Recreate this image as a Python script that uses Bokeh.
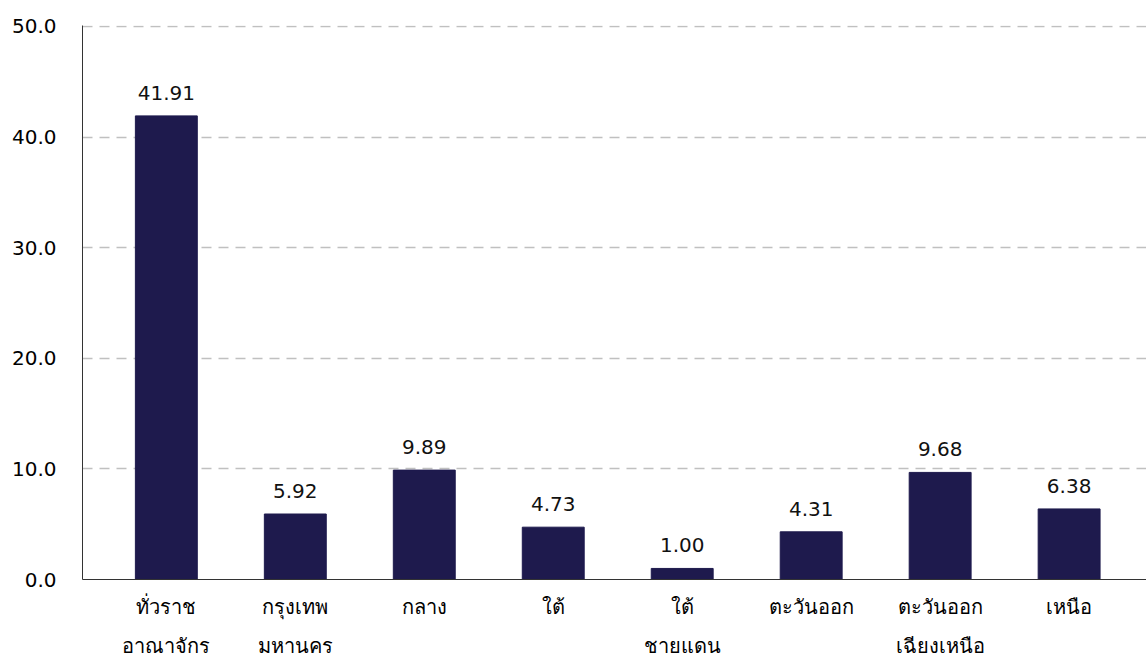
from bokeh.plotting import figure
from bokeh.models import ColumnDataSource, FixedTicker, Range1d, NumeralTickFormatter
from bokeh.embed import file_html
from bokeh.resources import INLINE
from bokeh.core.properties import value

categories = ["ทั่วราช\nอาณาจักร", "กรุงเทพ\nมหานคร", "กลาง", "ใต้", "ใต้\nชายแดน",
              "ตะวันออก", "ตะวันออก\nเฉียงเหนือ", "เหนือ"]
values = [41.91, 5.92, 9.89, 4.73, 1.00, 4.31, 9.68, 6.38]
y_ticks = [0, 10, 20, 30, 40, 50]

xs = list(range(len(categories)))
src = ColumnDataSource(dict(x=xs, top=values, label=["%.2f" % v for v in values]))

FONT = "DejaVu Sans"

p = figure(frame_width=1064, frame_height=554, output_backend="svg", toolbar_location=None,
           x_range=Range1d(-0.65, 7.6), y_range=Range1d(0, 50.08),
           min_border_top=25, min_border_left=82, min_border_right=0, min_border_bottom=80)
p.outline_line_color = None

p.vbar(x="x", top="top", width=0.48, bottom=0, source=src, color="#1e1a4d")
p.text(x="x", y="top", text="label", source=src, text_align="center", text_baseline="bottom",
       y_offset=-16, text_font=value(FONT), text_font_size="20px", text_color="#111111")

p.xaxis.ticker = FixedTicker(ticks=xs)
p.xaxis.major_label_overrides = {i: c for i, c in enumerate(categories)}
p.xaxis.major_tick_line_color = None
p.xaxis.minor_tick_line_color = None
p.xaxis.axis_line_color = "#333333"
p.xaxis.major_label_text_font = FONT
p.xaxis.major_label_text_font_size = "20px"
p.xaxis.major_label_text_color = "#000000"
p.xaxis.major_label_standoff = 9
p.xaxis.major_label_text_line_height = 1.65

p.yaxis.ticker = FixedTicker(ticks=y_ticks)
p.yaxis.formatter = NumeralTickFormatter(format="0.0")
p.yaxis.major_tick_line_color = None
p.yaxis.minor_tick_line_color = None
p.yaxis.axis_line_color = "#333333"
p.yaxis.major_label_text_font = FONT
p.yaxis.major_label_text_font_size = "20px"
p.yaxis.major_label_text_color = "#000000"
p.yaxis.major_label_standoff = 20

p.xgrid.grid_line_color = None
p.ygrid.ticker = FixedTicker(ticks=[10, 20, 30, 40, 50])
p.ygrid.grid_line_color = "#c0c0c0"
p.ygrid.grid_line_dash = "10 7"
p.ygrid.grid_line_width = 1.5

open("out.html", "w").write(file_html(p, INLINE))
